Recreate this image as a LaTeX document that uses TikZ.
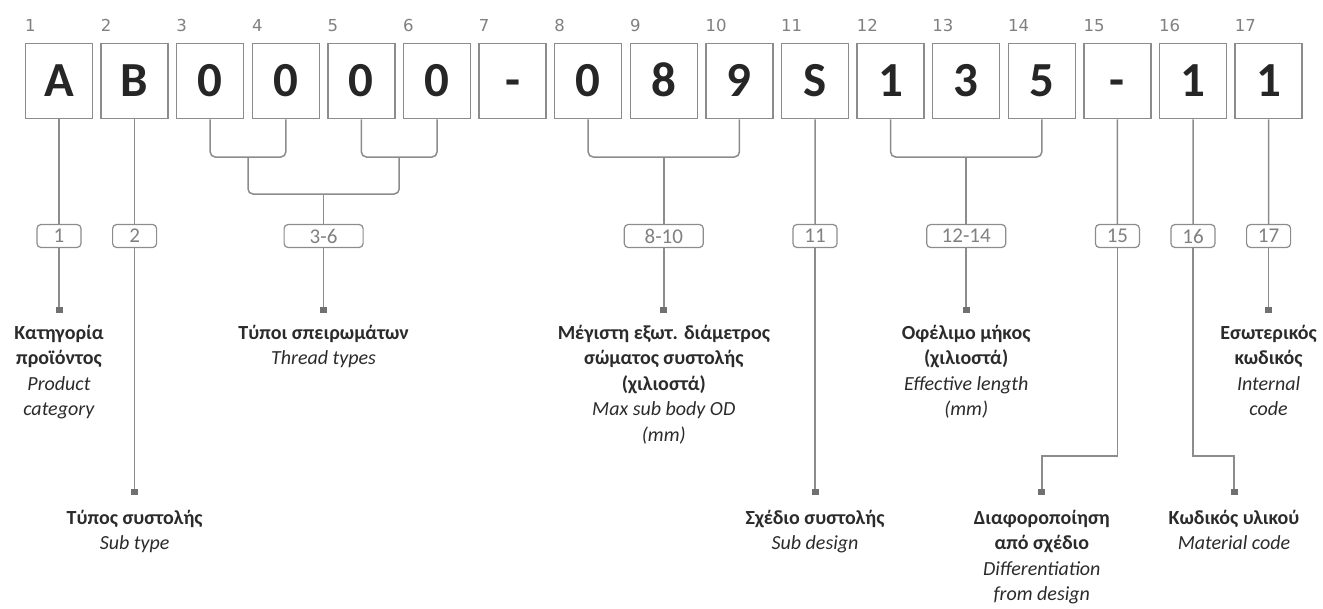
\documentclass[tikz,border=0pt]{standalone}
\usepackage{fontspec}
\setmainfont{Carlito}
\newfontfamily\idxfont{DejaVu Sans}
\definecolor{boxgray}{HTML}{8C8C8C}
\definecolor{markgray}{HTML}{707070}
\definecolor{idxgray}{HTML}{808080}
\definecolor{digitdark}{HTML}{262626}
\definecolor{lbldark}{HTML}{2B2B2B}
\tikzset{
    cell/.style={draw=boxgray,line width=1.5pt,minimum width=67pt,minimum height=75pt,inner sep=0pt,
        text height=31pt,text depth=0pt,font=\fontsize{49}{49}\selectfont\bfseries,text=digitdark},
    idx/.style={anchor=base west,inner sep=0pt,font=\idxfont\fontsize{16.5}{16.5}\selectfont,text=idxgray},
    tag/.style={draw=boxgray,line width=1.2pt,rounded corners=4pt,minimum width=44pt,minimum height=23pt,
        inner sep=0pt,font=\fontsize{21}{21}\selectfont,text=idxgray},
    widetag/.style={tag,minimum width=79pt},
    tipsq/.style={fill=markgray,minimum width=7pt,minimum height=6pt,inner sep=0pt},
    conn/.style={draw=boxgray,line width=1.5pt},
    lbl/.style={anchor=north,inner sep=0pt,align=center,font=\fontsize{20}{25.5}\selectfont,text=lbldark}
}
\begin{document}
\begin{tikzpicture}[x=1pt,y=-1pt]
                \useasboundingbox (0,0) rectangle (1323,608);
                \foreach \i/\c in {1/A,2/B,3/0,4/0,5/0,6/0,7/-,8/0,9/8,10/9,11/S,12/1,13/3,14/5,15/-,16/1,17/1} {
                    \node (b\i) at ({59+(\i-1)*75.6},81) [cell] {\c};
                    \node (n\i) at ({25+(\i-1)*75.6},31) [idx] {\i};
                }

                \coordinate (j34) at (248,157);
                \coordinate (j56) at (399.2,157);
                \coordinate (j36) at (323.6,194);
                \coordinate (j810) at (663.8,157);
                \coordinate (j1214) at (966.2,157);
                \coordinate (k15) at (1041.8,456);
                \coordinate (k16) at (1234,456);

                \node (t1) at (59,236) [tag] {1};
                \node (t2) at (134.6,236) [tag] {2};
                \node (t36) at (323.6,236) [widetag] {3-6};
                \node (t810) at (663.8,236) [widetag] {8-10};
                \node (t11) at (815,236) [tag] {11};
                \node (t1214) at (966.2,236) [widetag] {12-14};
                \node (t15) at (1117.4,236) [tag] {15};
                \node (t16) at (1193,236) [tag] {16};
                \node (t17) at (1268.6,236) [tag] {17};

                \node (m1) at (59,310) [tipsq] {};
                \node (m2) at (134.6,492) [tipsq] {};
                \node (m36) at (323.6,310) [tipsq] {};
                \node (m810) at (663.8,310) [tipsq] {};
                \node (m11) at (815,492) [tipsq] {};
                \node (m1214) at (966.2,310) [tipsq] {};
                \node (m15) at (1041.8,492) [tipsq] {};
                \node (m16) at (1234,492) [tipsq] {};
                \node (m17) at (1268.6,310) [tipsq] {};

                \draw [conn,rounded corners=5pt] (b3.south) |- (j34) -| (b4.south);
                \draw [conn,rounded corners=5pt] (b5.south) |- (j56) -| (b6.south);
                \draw [conn,rounded corners=5pt] (j34) |- (j36) -| (j56);
                \draw [conn,rounded corners=5pt] (b8.south) |- (j810) -| (b10.south);
                \draw [conn,rounded corners=5pt] (b12.south) |- (j1214) -| (b14.south);

                \draw [conn] (b1.south) -- (t1.north);
                \draw [conn] (b2.south) -- (t2.north);
                \draw [conn] (j36) -- (t36.north);
                \draw [conn] (j810) -- (t810.north);
                \draw [conn] (b11.south) -- (t11.north);
                \draw [conn] (j1214) -- (t1214.north);
                \draw [conn] (b15.south) -- (t15.north);
                \draw [conn] (b16.south) -- (t16.north);
                \draw [conn] (b17.south) -- (t17.north);

                \draw [conn] (t1.south) -- (m1.north);
                \draw [conn] (t2.south) -- (m2.north);
                \draw [conn] (t36.south) -- (m36.north);
                \draw [conn] (t810.south) -- (m810.north);
                \draw [conn] (t11.south) -- (m11.north);
                \draw [conn] (t1214.south) -- (m1214.north);
                \draw [conn] (t15.south) |- (k15) -- (m15.north);
                \draw [conn] (t16.south) |- (k16) -- (m16.north);
                \draw [conn] (t17.south) -- (m17.north);

                \node (l1) at (59,325) [lbl] {\textbf{Κατηγορία}\\\textbf{προϊόντος}\\\textit{Product}\\\textit{category}};
                \node (l2) at (134.6,510) [lbl] {\textbf{Τύπος συστολής}\\\textit{Sub type}};
                \node (l36) at (323.6,325) [lbl] {\textbf{Τύποι σπειρωμάτων}\\\textit{Thread types}};
                \node (l810) at (663.8,325) [lbl] {\textbf{Μέγιστη εξωτ. διάμετρος}\\\textbf{σώματος συστολής}\\\textbf{(χιλιοστά)}\\\textit{Max sub body OD}\\\textit{(mm)}};
                \node (l11) at (815,510) [lbl] {\textbf{Σχέδιο συστολής}\\\textit{Sub design}};
                \node (l1214) at (966.2,325) [lbl] {\textbf{Οφέλιμο μήκος}\\\textbf{(χιλιοστά)}\\\textit{Effective length}\\\textit{(mm)}};
                \node (l15) at (1041.8,510) [lbl] {\textbf{Διαφοροποίηση}\\\textbf{από σχέδιο}\\\textit{Differentiation}\\\textit{from design}};
                \node (l16) at (1234,510) [lbl] {\textbf{Κωδικός υλικού}\\\textit{Material code}};
                \node (l17) at (1268.6,325) [lbl] {\textbf{Εσωτερικός}\\\textbf{κωδικός}\\\textit{Internal}\\\textit{code}};
            \end{tikzpicture}
\end{document}
